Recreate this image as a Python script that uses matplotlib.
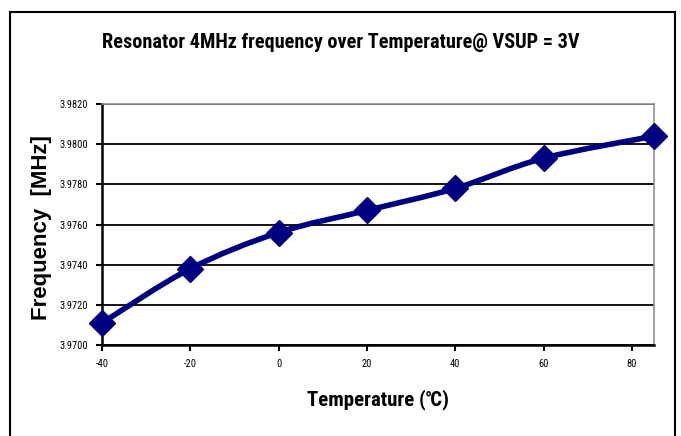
import matplotlib
matplotlib.use("Agg")
import matplotlib.pyplot as plt
from matplotlib.path import Path
from matplotlib.patches import PathPatch, Rectangle

# values
temps = [-40, -20, 0, 20, 40, 60, 85]
freqs = [3.9711, 3.9738, 3.9756, 3.9767, 3.9778, 3.9793, 3.9804]
x_ticks = [-40, -20, 0, 20, 40, 60, 80]
y_ticks = [3.9700, 3.9720, 3.9740, 3.9760, 3.9780, 3.9800, 3.9820]

plt.rcParams["axes.unicode_minus"] = False
narrow = ["Roboto Condensed", "DejaVu Sans"]
navy = "#000080"

fig = plt.figure(figsize=(6.81, 4.36), dpi=100)
fig.patches.append(Rectangle((10 / 681, -0.1), 665 / 681, 1.1 - 12 / 436,
                             transform=fig.transFigure, fill=False,
                             edgecolor="black", linewidth=1.5))

ax = fig.add_axes([102 / 681, 1 - 345 / 436, 552 / 681, 241 / 436])

# smoothed line like the spreadsheet's, bezier through the points
pts = list(zip(temps, freqs))
verts = [pts[0]]
codes = [Path.MOVETO]
for i in range(len(pts) - 1):
    p0 = pts[i - 1] if i > 0 else pts[i]
    p1 = pts[i]
    p2 = pts[i + 1]
    p3 = pts[i + 2] if i + 2 < len(pts) else pts[i + 1]
    c1 = (p1[0] + (p2[0] - p0[0]) / 6, p1[1] + (p2[1] - p0[1]) / 6)
    c2 = (p2[0] - (p3[0] - p1[0]) / 6, p2[1] - (p3[1] - p1[1]) / 6)
    verts += [c1, c2, p2]
    codes += [Path.CURVE4] * 3
ax.add_patch(PathPatch(Path(verts, codes), fill=False, edgecolor=navy,
                       linewidth=4.0, capstyle="round", joinstyle="round",
                       zorder=3, clip_on=False))
ax.plot(temps, freqs, linestyle="none", marker="D", markersize=13,
        color=navy, zorder=4, clip_on=False)

ax.set_xlim(-40, 85)
ax.set_ylim(3.9700, 3.9820)
ax.set_xticks(x_ticks)
ax.set_yticks(y_ticks)
ax.set_yticklabels([f"{v:.4f}" for v in y_ticks])
for lab in ax.get_xticklabels() + ax.get_yticklabels():
    lab.set_family(narrow)
    lab.set_fontsize(7.5)
ax.tick_params(direction="out", length=4, width=1.5, colors="black", pad=6)
ax.grid(axis="y", color="black", linewidth=1.3)
ax.set_axisbelow(True)
ax.spines["left"].set_linewidth(1.8)
ax.spines["bottom"].set_linewidth(1.8)
ax.spines["top"].set_color("#909090")
ax.spines["right"].set_color("#909090")
ax.spines["top"].set_linewidth(1.2)
ax.spines["right"].set_linewidth(1.2)

fig.text(341 / 681, 1 - 42 / 436, "Resonator 4MHz frequency over Temperature@ VSUP = 3V",
         ha="center", va="center", fontsize=14.6, fontweight="bold", family=narrow)
fig.text(42 / 681, 1 - 228 / 436, "Frequency  [MHz]", rotation=90,
         ha="center", va="center", fontsize=16, fontweight="bold",
         family=["Liberation Sans", "DejaVu Sans"])
fig.text(378 / 681, 1 - 400 / 436, "Temperature (\u2103)",
         ha="center", va="center", fontsize=15, fontweight="bold", family=narrow)

fig.savefig("out.png", dpi=100)
